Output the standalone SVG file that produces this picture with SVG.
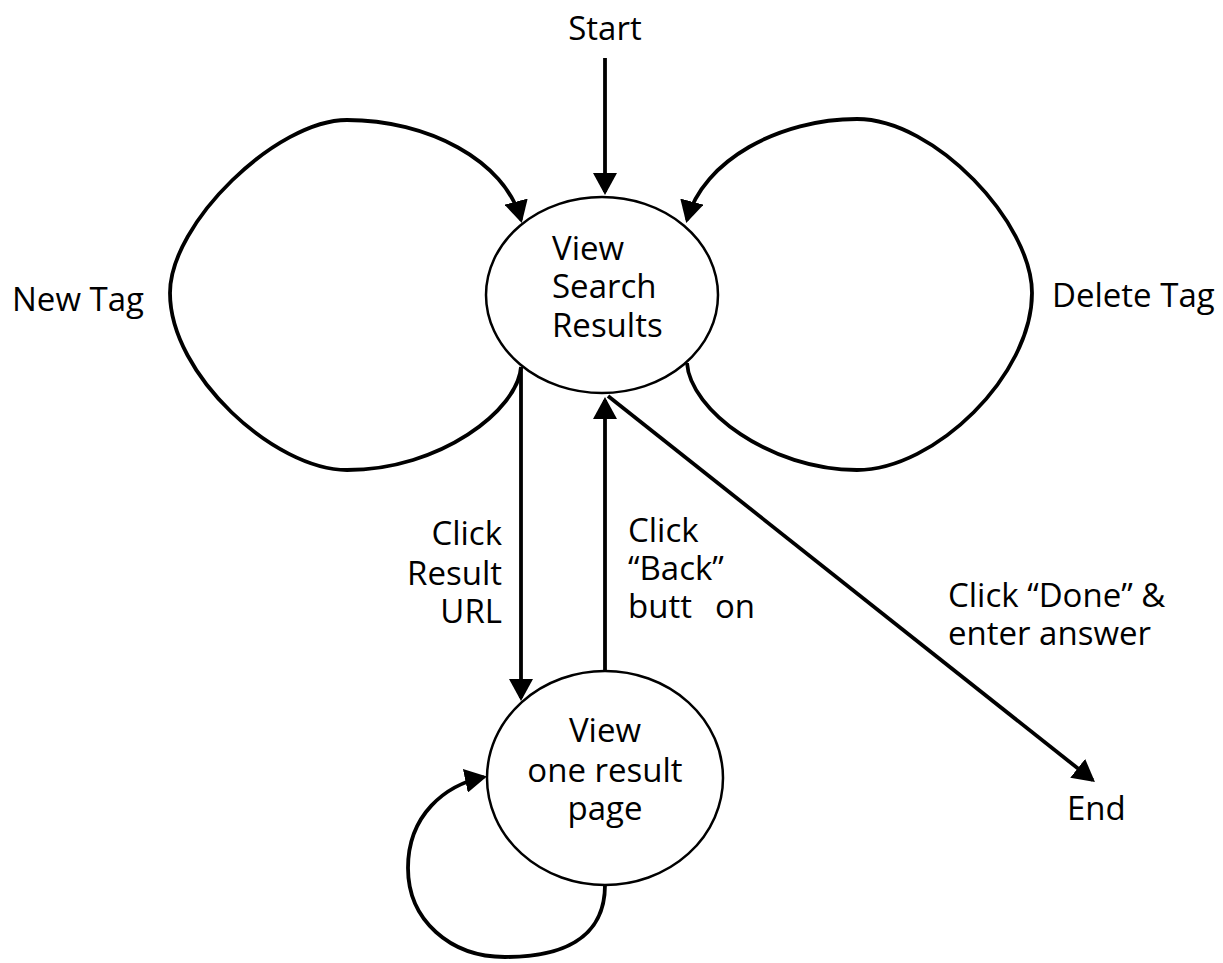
<svg xmlns="http://www.w3.org/2000/svg" width="1223" height="963" viewBox="0 0 1223 963">
  <style>
    .state { fill: #ffffff; stroke: #000000; stroke-width: 2.5; }
    .edge { fill: none; stroke: #000000; stroke-width: 3.8; marker-end: url(#arrow); }
    text { font-family: "Open Sans", "Noto Sans", "Liberation Sans", sans-serif; font-size: 33px; fill: #000000; }
    .mid { text-anchor: middle; }
    .end { text-anchor: end; }
  </style>
  <defs>
    <marker id="arrow" markerUnits="userSpaceOnUse" viewBox="0 0 22 24" markerWidth="22" markerHeight="24" refX="19" refY="12" orient="auto">
      <path d="M0,0 L22,12 L0,24 z" fill="#000000"/>
    </marker>
  </defs>
  <rect width="1223" height="963" fill="#ffffff"/>

  <g id="connectors">
    <!-- entry -->
    <path class="edge" d="M605 58 L605 192"/>
    <!-- New Tag self loop -->
    <path class="edge" d="M521 367 C518 410, 440 470, 347 470 C275 470, 170 375, 170 293 C170 223, 277 120, 347 120 C427 120, 505 160, 521 220"/>
    <!-- Delete Tag self loop -->
    <path class="edge" d="M687 363 C690 410, 770 470, 857 470 C935 470, 1032 375, 1032 293 C1032 223, 935 119, 857 119 C780 119, 703 160, 687 220"/>
    <!-- Click Result URL -->
    <path class="edge" d="M521 367 L521 698"/>
    <!-- Click Back button -->
    <path class="edge" d="M605 671 L605 400"/>
    <!-- Click Done -->
    <path class="edge" d="M608 396 L1092.6 780.1"/>
    <!-- result page self loop -->
    <path class="edge" d="M605 885 C605 940, 560 957, 505 957 C450 957, 408 920, 408 868 C408 815, 445 785, 484 777"/>
  </g>

  <g id="label-start">
    <text class="mid" x="605" y="40">Start</text>
  </g>

  <g id="label-end">
    <text x="1067" y="820">End</text>
  </g>

  <g id="node-search-results">
    <ellipse class="state" cx="602" cy="295" rx="116" ry="98"/>
    <text x="552" y="260">View</text>
    <text x="552" y="298">Search</text>
    <text x="552" y="337">Results</text>
  </g>

  <g id="node-result-page">
    <ellipse class="state" cx="605" cy="778" rx="118" ry="107"/>
    <text class="mid" x="605" y="742">View</text>
    <text class="mid" x="605" y="782">one result</text>
    <text class="mid" x="605" y="820">page</text>
  </g>

  <g id="edge-labels">
    <text x="12" y="311">New Tag</text>
    <text x="1052" y="307">Delete Tag</text>
    <text class="end" x="502" y="545">Click</text>
    <text class="end" x="502" y="585">Result</text>
    <text class="end" x="502" y="623">URL</text>
    <text x="628" y="542">Click</text>
    <text x="628" y="580">“Back”</text>
    <text x="628" y="618">butt<tspan x="715">on</tspan></text>
    <text x="948" y="607">Click “Done” &amp;</text>
    <text x="948" y="645">enter answer</text>
  </g>
</svg>
